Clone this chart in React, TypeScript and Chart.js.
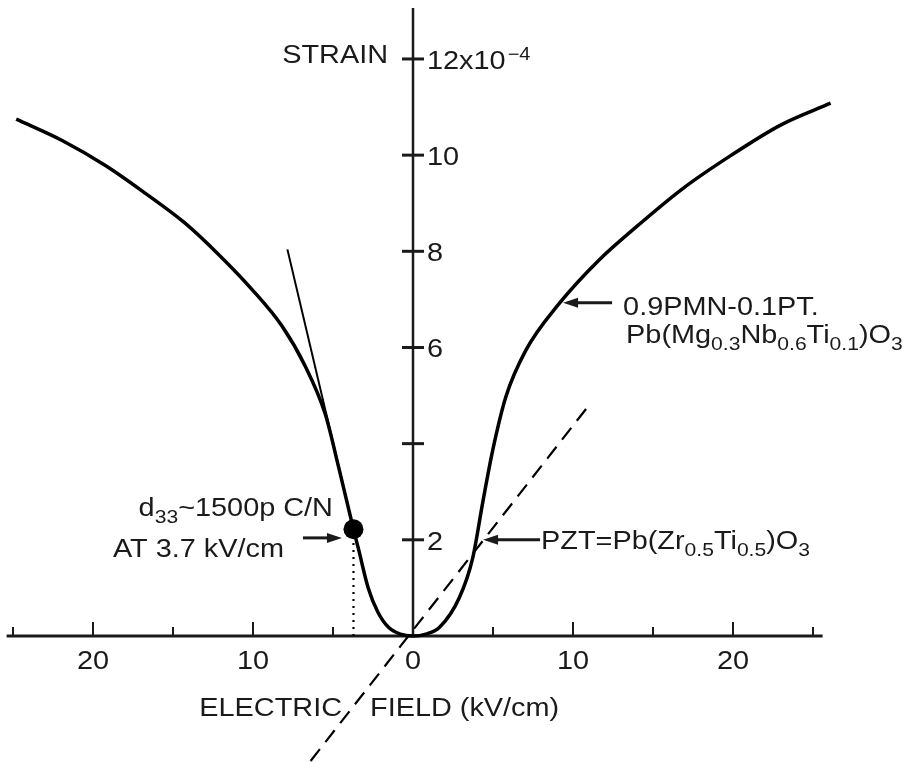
import React, { useEffect, useRef } from "react";
import { Chart, registerables } from "chart.js";

Chart.register(...registerables);

// ---- Data ----
// 0.9PMN-0.1PT strain curve (strain in 1e-4 units vs electric field in kV/cm; left branch drawn at negative field)
const pmnX = [-24.8, -21.9, -19.2, -16.7, -14.3, -12.2, -10.1, -8.2, -6.75, -5.49, -4.64, -3.72, -3.4, -2.8, -2.2, -1.5, -0.8, 0,
  0.8, 1.66, 2.9, 3.73, 4.36, 4.98, 5.81, 7.05, 9.13, 11.6, 14.1, 16.8, 19.9, 23.0, 26.1];
const pmnY = [10.75, 10.3, 9.78, 9.2, 8.6, 7.95, 7.22, 6.45, 5.62, 4.62, 3.5, 2.22, 1.8, 1.0, 0.5, 0.17, 0.04, 0,
  0.04, 0.18, 0.8, 1.62, 2.78, 3.86, 4.98, 5.94, 6.91, 7.81, 8.55, 9.29, 10.0, 10.63, 11.08];
// PZT straight (dashed) line end points
const pztX = [-6.4, 11.0];
const pztY = [-2.6, 4.8];
// tangent line at the marked point
const tangentX = [-7.85, -3.72];
const tangentY = [8.04, 2.22];
// marked point: d33 ~ 1500 pC/N at 3.7 kV/cm
const markX = [-3.72];
const markY = [2.22];
// axis ticks and labels
const xMajorTicks = [-20, -10, 10, 20];
const xMinorTicks = [-25, -15, -5, 5, 15, 25];
const xLabelValues = [-20, -10, 0, 10, 20];
const xLabels = ["20", "10", "0", "10", "20"];
const yTickValues = [2, 4, 6, 8, 10, 12];
const yTickLabels = ["2", "", "6", "8", "10", "12x10"];

const FONT = '"Liberation Sans", Arial, Helvetica, sans-serif';
const INK = "#1a1a1a";
const SX = 1.11; // horizontal stretch of the lettering in the scan
const SUB = 0.74;

type Part = [string, number]; // 0 normal, 1 subscript, -1 superscript

function setFont(ctx: CanvasRenderingContext2D, size: number) {
  ctx.font = `${size}px ${FONT}`;
}

function tw(ctx: CanvasRenderingContext2D, t: string) {
  return ctx.measureText(t).width * SX;
}

function fillS(ctx: CanvasRenderingContext2D, t: string, x: number, y: number) {
  ctx.save();
  ctx.translate(x, y);
  ctx.scale(SX, 1);
  ctx.textAlign = "left";
  ctx.textBaseline = "alphabetic";
  ctx.fillText(t, 0, 0);
  ctx.restore();
}

function text(ctx: CanvasRenderingContext2D, t: string, x: number, y: number, size: number, align: "left" | "right" | "center" = "left") {
  setFont(ctx, size);
  const w = tw(ctx, t);
  const sx = align === "right" ? x - w : align === "center" ? x - w / 2 : x;
  fillS(ctx, t, sx, y);
  return sx + w;
}

function richWidth(ctx: CanvasRenderingContext2D, parts: Part[], size: number) {
  let w = 0;
  for (const [t, k] of parts) {
    setFont(ctx, k === 0 ? size : Math.round(size * SUB));
    w += tw(ctx, t);
  }
  return w;
}

function drawRich(ctx: CanvasRenderingContext2D, parts: Part[], x: number, y: number, size: number, align: "left" | "right" = "left") {
  let cx = align === "right" ? x - richWidth(ctx, parts, size) : x;
  for (const [t, k] of parts) {
    const s = k === 0 ? size : Math.round(size * SUB);
    setFont(ctx, s);
    const dy = k === 1 ? size * 0.28 : k === -1 ? -size * 0.45 : 0;
    fillS(ctx, t, cx, y + dy);
    cx += tw(ctx, t);
  }
}

function arrow(ctx: CanvasRenderingContext2D, x1: number, y1: number, x2: number, y2: number) {
  const ang = Math.atan2(y2 - y1, x2 - x1);
  const hl = 15, hw = 5;
  ctx.lineWidth = 3;
  ctx.beginPath();
  ctx.moveTo(x1, y1);
  ctx.lineTo(x2 - Math.cos(ang) * hl * 0.8, y2 - Math.sin(ang) * hl * 0.8);
  ctx.stroke();
  ctx.beginPath();
  ctx.moveTo(x2, y2);
  ctx.lineTo(x2 - Math.cos(ang) * hl - Math.sin(ang) * hw, y2 - Math.sin(ang) * hl + Math.cos(ang) * hw);
  ctx.lineTo(x2 - Math.cos(ang) * hl + Math.sin(ang) * hw, y2 - Math.sin(ang) * hl - Math.cos(ang) * hw);
  ctx.closePath();
  ctx.fill();
}

const axesPlugin = {
  id: "strainAxes",
  beforeDatasetsDraw(chart: any) {
    const { ctx } = chart;
    const xs = chart.scales.x, ys = chart.scales.y;
    const px = (v: number) => xs.getPixelForValue(v);
    const py = (v: number) => ys.getPixelForValue(v);
    const x0 = px(0), y0 = py(0);
    ctx.save();
    ctx.strokeStyle = INK;
    ctx.fillStyle = INK;
    // x axis line
    ctx.lineWidth = 3;
    ctx.beginPath();
    ctx.moveTo(px(-25.4), y0);
    ctx.lineTo(px(25.6), y0);
    ctx.stroke();
    // x ticks (upward)
    ctx.lineWidth = 2;
    for (const v of xMajorTicks) {
      ctx.beginPath();
      ctx.moveTo(px(v), y0);
      ctx.lineTo(px(v), y0 - 14);
      ctx.stroke();
    }
    for (const v of xMinorTicks) {
      ctx.beginPath();
      ctx.moveTo(px(v), y0);
      ctx.lineTo(px(v), y0 - 9);
      ctx.stroke();
    }
    // y axis line
    ctx.lineWidth = 2.5;
    ctx.beginPath();
    ctx.moveTo(x0, y0);
    ctx.lineTo(x0, ys.top);
    ctx.stroke();
    // y ticks (crossing the axis)
    ctx.lineWidth = 3;
    for (const v of yTickValues) {
      ctx.beginPath();
      ctx.moveTo(x0 - 11, py(v));
      ctx.lineTo(x0 + 11, py(v));
      ctx.stroke();
    }
    // x tick labels
    xLabelValues.forEach((v, i) => text(ctx, xLabels[i], px(v), y0 + 33, 26, "center"));
    // y tick labels
    yTickValues.forEach((v, i) => {
      const t = yTickLabels[i];
      if (!t) return;
      const end = text(ctx, t, x0 + 14, py(v) + 10, 26);
      if (v === 12) text(ctx, "\u22124", end + 2, py(v) + 1, 18);
    });
    // axis titles
    text(ctx, "STRAIN", x0 - 25, py(12) + 4, 26, "right");
    text(ctx, "ELECTRIC", x0 - 71, y0 + 80, 26, "right");
    text(ctx, "FIELD (kV/cm)", x0 - 43, y0 + 80, 26, "left");
    ctx.restore();
  },
  afterDatasetsDraw(chart: any) {
    const { ctx } = chart;
    const xs = chart.scales.x, ys = chart.scales.y;
    const px = (v: number) => xs.getPixelForValue(v);
    const py = (v: number) => ys.getPixelForValue(v);
    ctx.save();
    ctx.strokeStyle = INK;
    ctx.fillStyle = INK;
    // PMN note
    const pmnTipX = px(9.38), pmnTipY = py(6.93);
    arrow(ctx, pmnTipX + 49, pmnTipY, pmnTipX, pmnTipY);
    drawRich(ctx, [["0.9PMN-0.1PT.", 0]], pmnTipX + 60, pmnTipY + 12, 26);
    drawRich(ctx, [["Pb(Mg", 0], ["0.3", 1], ["Nb", 0], ["0.6", 1], ["Ti", 0], ["0.1", 1], [")O", 0], ["3", 1]], pmnTipX + 63, pmnTipY + 40, 26);
    // PZT note
    const pztTipX = px(4.38), pztTipY = py(2.0);
    arrow(ctx, pztTipX + 57, pztTipY, pztTipX, pztTipY);
    drawRich(ctx, [["PZT=Pb(Zr", 0], ["0.5", 1], ["Ti", 0], ["0.5", 1], [")O", 0], ["3", 1]], pztTipX + 58, pztTipY + 9, 26);
    // d33 note
    const dTipX = px(-4.44), dTipY = py(2.04);
    arrow(ctx, dTipX - 39, dTipY, dTipX, dTipY);
    drawRich(ctx, [["d", 0], ["33", 1], ["~1500p C/N", 0]], dTipX - 9, dTipY - 22, 26, "right");
    drawRich(ctx, [["AT 3.7 kV/cm", 0]], dTipX - 229, dTipY + 19, 26);
    ctx.restore();
  },
};

export default function App() {
  const ref = useRef<HTMLCanvasElement | null>(null);
  useEffect(() => {
    if (!ref.current) return;
    const pts = (xs: number[], ys: number[]) => xs.map((x, i) => ({ x, y: ys[i] }));
    const chart = new Chart(ref.current, {
      type: "scatter",
      data: {
        datasets: [
          {
            data: pts(pmnX, pmnY),
            showLine: true,
            borderColor: "#000",
            borderWidth: 3.5,
            pointRadius: 0,
            cubicInterpolationMode: "monotone",
          },
          {
            data: pts(pztX, pztY),
            showLine: true,
            borderColor: "#000",
            borderWidth: 2.2,
            borderDash: [15, 9],
            pointRadius: 0,
          },
          {
            data: pts(tangentX, tangentY),
            showLine: true,
            borderColor: "#000",
            borderWidth: 2,
            pointRadius: 0,
          },
          {
            data: [{ x: markX[0], y: 0 }, { x: markX[0], y: markY[0] }],
            showLine: true,
            borderColor: "#000",
            borderWidth: 2.2,
            borderDash: [2, 5],
            pointRadius: 0,
          },
          {
            data: pts(markX, markY),
            showLine: false,
            pointRadius: 10,
            pointBackgroundColor: "#000",
            pointBorderWidth: 0,
          },
        ],
      },
      options: {
        responsive: false,
        animation: false,
        devicePixelRatio: 1,
        layout: { autoPadding: false, padding: { left: 5, right: 86, top: 8, bottom: 1 } },
        scales: {
          x: { type: "linear", min: -25.5, max: 26.5, display: false },
          y: { type: "linear", min: -2.6, max: 13.06, display: false },
        },
        plugins: { legend: { display: false }, tooltip: { enabled: false } },
        clip: false,
      } as any,
      plugins: [axesPlugin],
    });
    return () => chart.destroy();
  }, []);
  return (
    <div style={{ position: "fixed", left: 0, top: 0, width: 923, height: 762, background: "#fff" }}>
      <canvas ref={ref} width={923} height={762} style={{ display: "block", width: 923, height: 762 }} />
    </div>
  );
}
